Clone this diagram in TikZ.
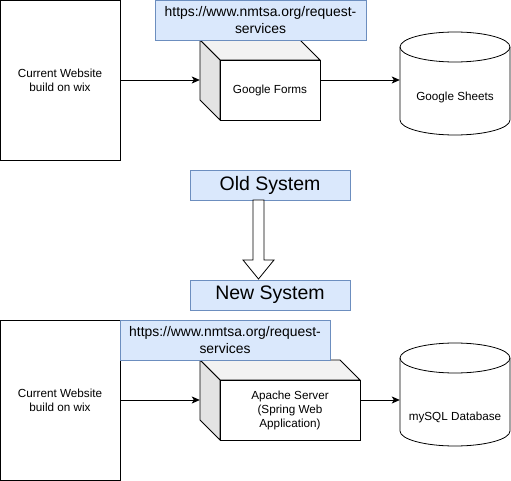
\documentclass[tikz,border=0pt]{standalone}
\usepackage{fontspec}
\setmainfont{Liberation Sans}
\usetikzlibrary{arrows.meta}
\definecolor{bluefill}{HTML}{DAE8FC}
\definecolor{bluedraw}{HTML}{6C8EBF}
\definecolor{topface}{HTML}{F2F2F2}
\definecolor{sideface}{HTML}{E3E3E3}
\tikzset{
  plain/.style={draw=black, fill=white, line width=0.8pt, inner sep=0pt, align=center, font=\fontsize{11.7}{14}\selectfont},
  urlbox/.style={draw=bluedraw, fill=bluefill, line width=0.8pt, inner sep=0pt, align=center, font=\fontsize{13.9}{16.5}\selectfont},
  sysbox/.style={draw=bluedraw, fill=bluefill, line width=0.8pt, inner sep=0pt, align=center, font=\fontsize{19.5}{22}\selectfont},
  ghost/.style={draw=none, inner sep=0pt, align=center, font=\fontsize{11.7}{14}\selectfont},
  conn/.style={line width=0.8pt, -{Stealth[length=8pt,width=7pt,inset=2pt]}},
  face/.style={draw=black, line width=0.8pt}
}
\begin{document}
\begin{tikzpicture}[x=1pt,y=-1pt]
\useasboundingbox (0,0) rectangle (511,481);

% ---------- top (old system) ----------
\node[plain, minimum width=120pt, minimum height=160pt] (web1) at (60,80) {Current Website\\build on wix};

% Google Forms cube
\node[ghost, minimum width=120pt, minimum height=80pt] (gfc) at (260,80) {};
\filldraw[face, fill=topface] (200,40) -- (300,40) -- (320,60) -- (220,60) -- cycle;
\filldraw[face, fill=sideface] (200,40) -- (220,60) -- (220,120) -- (200,100) -- cycle;
\node[plain, minimum width=100pt, minimum height=60pt] (gf) at (270,90) {Google Forms};

\node[urlbox, minimum width=211pt, minimum height=40pt] (url1) at (260.5,20) {https://www.nmtsa.org/request-\\services};

% Google Sheets cylinder
\node[ghost, minimum width=110pt, minimum height=103pt] (gs) at (455,83.5) {};
\filldraw[face, fill=white] (400,47) -- (400,120) arc[start angle=180, end angle=360, x radius=55pt, y radius=15pt] -- (510,47) arc[start angle=0, end angle=180, x radius=55pt, y radius=15pt] -- cycle;
\draw[face] (400,47) arc[start angle=180, end angle=360, x radius=55pt, y radius=15pt];
\node[ghost] at (455,97) {Google Sheets};

\draw[conn] (web1.east |- 0,80) -- (gfc.west);
\draw[conn] (gf.east |- 0,80) -- (gs.west |- 0,80);

% ---------- middle ----------
\node[sysbox, minimum width=160pt, minimum height=30pt] (old) at (270,185) {Old System};
\node[sysbox, minimum width=160pt, minimum height=30pt] (new) at (270,295) {New System};
\filldraw[face, fill=white] (253,200) -- (264,200) -- (264,260) -- (274,260) -- (258.5,279) -- (243,260) -- (253,260) -- cycle;

% ---------- bottom (new system) ----------
\node[plain, minimum width=120pt, minimum height=160pt] (web2) at (60,400) {Current Website\\build on wix};

% Apache cube
\node[ghost, minimum width=160pt, minimum height=80pt] (apc) at (280,400) {};
\filldraw[face, fill=topface] (200,360) -- (340,360) -- (360,380) -- (220,380) -- cycle;
\filldraw[face, fill=sideface] (200,360) -- (220,380) -- (220,440) -- (200,420) -- cycle;
\node[plain, minimum width=140pt, minimum height=60pt] (ap) at (290,410) {Apache Server\\(Spring Web\\Application)};

\node[urlbox, minimum width=210pt, minimum height=40pt] (url2) at (225,340) {https://www.nmtsa.org/request-\\services};

% mySQL cylinder
\node[ghost, minimum width=110pt, minimum height=103pt] (db) at (455,394) {};
\filldraw[face, fill=white] (400,358) -- (400,431) arc[start angle=180, end angle=360, x radius=55pt, y radius=15pt] -- (510,358) arc[start angle=0, end angle=180, x radius=55pt, y radius=15pt] -- cycle;
\draw[face] (400,358) arc[start angle=180, end angle=360, x radius=55pt, y radius=15pt];
\node[ghost] at (455,417) {mySQL Database};

\draw[conn] (web2.east) -- (apc.west);
\draw[conn] (ap.east |- 0,400) -- (db.west |- 0,400);
\end{tikzpicture}
\end{document}
